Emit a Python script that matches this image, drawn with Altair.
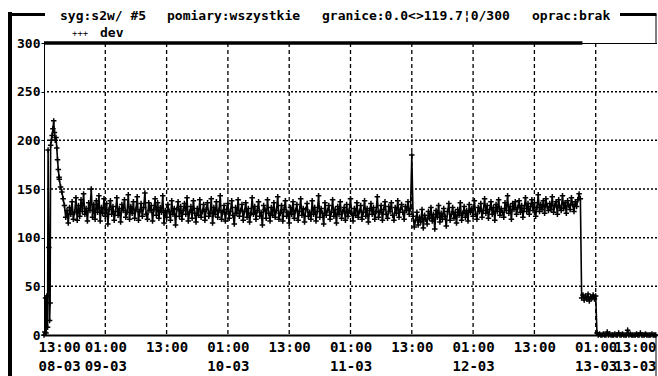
import altair as alt
import pandas as pd

# ---------------- data ----------------
TITLE_PARTS = ["syg:s2w/ #5", "pomiary:wszystkie", "granice:0.0<>119.7¦0/300", "oprac:brak"]
LEGEND_MARK = "+++"
LEGEND_NAME = "dev"

# start of the record (hours after 08-03 13:00)
start_hours = [0.0, 0.15, 0.3, 0.4, 0.55, 0.7, 0.8, 0.95, 1.1, 1.2, 1.3, 1.45,
               1.6, 1.75, 1.9, 2.05, 2.2, 2.35, 2.5, 2.65, 2.8, 2.95]
start_values = [0, 3, 38, 2, 40, 8, 190, 90, 15, 33, 195, 200,
                205, 212, 220, 208, 200, 203, 192, 180, 170, 162]

# main record, every 15 minutes from hour 3.0
band_start = 3.0
band_step = 0.25
band_values = [
    160, 152, 147, 140, 133, 121, 128, 115, 131, 124, 137, 119, 126, 141, 118, 133, 122, 139, 127, 145, 124, 130, 117, 136,
    128, 150, 121, 134, 119, 138, 126, 143, 117, 131, 125, 140, 122, 135, 114, 129, 138, 124, 132, 118, 127, 141, 123, 130,
    116, 134, 128, 139, 121, 126, 144, 119, 132, 125, 137, 120, 129, 142, 118, 127, 135, 122, 131, 146, 124, 119, 136, 128,
    133, 117, 129, 140, 123, 136, 120, 131, 126, 143, 115, 128, 121, 134, 127, 118, 138, 124, 130, 113, 129, 137, 122, 132,
    119, 128, 135, 124, 141, 117, 126, 132, 120, 138, 125, 116, 130, 123, 139, 121, 127, 134, 118, 129, 136, 122, 125, 140,
    115, 131, 124, 137, 121, 128, 143, 119, 126, 133, 117, 129, 135, 120, 127, 138, 123, 114, 131, 125, 139, 122, 128, 134,
    118, 127, 136, 121, 130, 116, 125, 141, 124, 132, 119, 128, 137, 122, 126, 113, 133, 129, 120, 139, 125, 117, 131, 123,
    136, 121, 128, 142, 119, 125, 133, 117, 129, 138, 122, 126, 115, 131, 124, 137, 120, 128, 134, 118, 127, 140, 123, 130,
    116, 129, 135, 122, 126, 119, 138, 124, 131, 117, 127, 143, 121, 130, 125, 114, 136, 123, 128, 133, 119, 126, 139, 122,
    129, 115, 132, 124, 137, 120, 127, 131, 118, 134, 122, 128, 140, 125, 117, 130, 123, 136, 121, 127, 133, 119, 126, 138,
    122, 130, 116, 128, 135, 124, 131, 119, 127, 142, 121, 126, 133, 118, 129, 137, 124, 120, 132, 127, 136, 123, 118, 131,
    125, 138, 121, 129, 134, 126, 119, 132, 128, 137, 124, 130, 185, 122, 111, 118, 126, 113, 121, 116, 129, 110, 123, 119,
    114, 127, 120, 131, 117, 124, 109, 128, 121, 133, 116, 125, 119, 130, 122, 112, 127, 135, 118, 124, 131, 120, 126, 115,
    129, 123, 136, 118, 125, 132, 121, 128, 117, 134, 126, 130, 122, 138, 124, 119, 131, 127, 135, 121, 128, 140, 125, 133,
    120, 129, 137, 124, 131, 118, 134, 127, 139, 123, 130, 126, 121, 136, 128, 143, 125, 132, 119, 135, 129, 137, 124, 131,
    138, 126, 133, 121, 130, 141, 127, 135, 124, 132, 139, 128, 136, 122, 131, 144, 127, 134, 129, 138, 125, 140, 132, 128,
    135, 129, 142, 126, 133, 137, 124, 139, 131, 128, 143, 130, 136, 125, 138, 133, 129, 141, 134, 127, 137, 132, 139, 145,
    140,
]
tail_values = [38, 41, 36, 40, 37, 42, 35, 39, 38, 41, 37, 40,
               2, 0, 1, 0, 0, 1, 0, 0, 3, 0, 1, 0, 0, 0, 1, 0, 0, 2, 0, 0,
               1, 0, 0, 0, 5, 0, 1, 0, 0, 0, 0, 1, 0, 0, 2, 0, 0, 0, 1, 0,
               0, 0, 0, 1, 0, 0, 0]

# presence bar along the top (hours)
bar_from, bar_to = 0.0, 105.4

x_tick_hours = [0, 12, 24, 36, 48, 60, 72, 84, 96, 108, 120]
x_tick_time = ["13:00", "01:00", "13:00", "01:00", "13:00", "01:00",
               "13:00", "01:00", "13:00", "01:00", "13:00"]
x_tick_date = ["08-03", "09-03", "", "10-03", "", "11-03", "", "12-03", "", "13-03", "13-03"]
v_grid_hours = [12, 24, 36, 48, 60, 72, 84, 96, 108]
y_ticks = [0, 50, 100, 150, 200, 250, 300]
h_grid_values = [50, 100, 150, 200, 250]

# ---------------- build ----------------
rest = band_values + tail_values
hours = start_hours + [band_start + i * band_step for i in range(len(rest))]
values = start_values + rest
df = pd.DataFrame({"h": hours, "v": values})

FONT = "DejaVu Sans Mono"
W, H = 613, 292
first_h, last_h = x_tick_hours[0], x_tick_hours[-1]

parts = []
for t, d in zip(x_tick_time, x_tick_date):
    parts.append(f"['{t}','{d}']" if d else f"['{t}']")
label_expr = "[" + ",".join(parts) + "][round(datum.value/12)]"

xscale = alt.Scale(domain=[first_h, last_h], nice=False, zero=False)
yscale = alt.Scale(domain=[0, 300], nice=False)

x_axis = alt.Axis(
    values=x_tick_hours, labelExpr=label_expr, grid=False, ticks=False,
    domainColor="black", domainWidth=2, labelFlush=False, labelOverlap=False,
    labelAlign={"condition": [{"test": f"datum.value <= {first_h}", "value": "left"},
                              {"test": f"datum.value >= {last_h}", "value": "right"}],
                "value": "center"},
    labelOffset={"condition": [{"test": f"datum.value <= {first_h}", "value": -6},
                               {"test": f"datum.value >= {last_h}", "value": -1}],
                 "value": 0},
    labelFont=FONT, labelFontSize=14, labelFontWeight="bold", labelColor="black",
    labelPadding=5, labelLineHeight=19, labelBaseline="top", title=None)
y_axis = alt.Axis(values=y_ticks, grid=False, tickSize=3, tickColor="black",
                  domainColor="black", domainWidth=1, labelFont=FONT, labelFontSize=13,
                  labelColor="black", labelPadding=1, labelFontWeight="bold", title=None)

base = alt.Chart(df)

vgrid = alt.Chart(pd.DataFrame({"h": v_grid_hours})).mark_rule(
    color="black", strokeWidth=1.3, strokeDash=[4, 3]).encode(
    x=alt.X("h:Q", scale=xscale, axis=x_axis))
hgrid = alt.Chart(pd.DataFrame({"v": h_grid_values})).mark_rule(
    color="black", strokeWidth=1.5, strokeDash=[2, 2]).encode(
    y=alt.Y("v:Q", scale=yscale, axis=y_axis))

top_line = alt.Chart(pd.DataFrame({"a": [0]})).mark_rule(color="black", strokeWidth=1).encode(
    x=alt.value(0), x2=alt.value(W), y=alt.value(0.5))
top_bar = alt.Chart(pd.DataFrame({"h0": [bar_from], "h1": [bar_to], "v": [300]})).mark_rule(
    color="black", strokeWidth=3.5).encode(
    x=alt.X("h0:Q", scale=xscale), x2="h1:Q", y=alt.Y("v:Q", scale=yscale))

line = base.mark_line(color="black", strokeWidth=1.6).encode(
    x=alt.X("h:Q", scale=xscale), y=alt.Y("v:Q", scale=yscale))
pts = base.mark_point(shape="M-1,0L1,0M0,-1L0,1", size=30, filled=False,
                      color="black", strokeWidth=1.5, opacity=1).encode(
    x=alt.X("h:Q", scale=xscale), y=alt.Y("v:Q", scale=yscale))

one = pd.DataFrame({"a": [0]})
frame_left = alt.Chart(one).mark_rule(color="black", strokeWidth=4).encode(
    x=alt.value(-34), y=alt.value(-31), y2=alt.value(340))
frame_tl = alt.Chart(one).mark_rule(color="black", strokeWidth=3).encode(
    x=alt.value(-36), x2=alt.value(1), y=alt.value(-28.5))
frame_tr = alt.Chart(one).mark_rule(color="black", strokeWidth=3).encode(
    x=alt.value(576), x2=alt.value(612.5), y=alt.value(-28.5))
frame_r1 = alt.Chart(one).mark_rule(color="black", strokeWidth=1).encode(
    x=alt.value(612), y=alt.value(-28.5), y2=alt.value(0))
frame_r2 = alt.Chart(one).mark_rule(color="black", strokeWidth=1).encode(
    x=alt.value(612), y=alt.value(292), y2=alt.value(335))

title_x = [16, 123, 278, 488]
title_layers = [
    alt.Chart(pd.DataFrame({"t": [txt]})).mark_text(
        font=FONT, fontSize=13, fontWeight="bold", align="left", baseline="alphabetic",
        color="black").encode(x=alt.value(px), y=alt.value(-23), text="t:N")
    for txt, px in zip(TITLE_PARTS, title_x)
]
leg_mark = alt.Chart(pd.DataFrame({"t": [LEGEND_MARK]})).mark_text(
    font=FONT, fontSize=9, align="left", baseline="alphabetic", color="black").encode(
    x=alt.value(28), y=alt.value(-7), text="t:N")
leg_name = alt.Chart(pd.DataFrame({"t": [LEGEND_NAME]})).mark_text(
    font=FONT, fontSize=13, fontWeight="bold", align="left", baseline="alphabetic",
    color="black").encode(x=alt.value(56), y=alt.value(-6), text="t:N")

chart = alt.layer(
    vgrid, hgrid, top_line, top_bar, line, pts,
    frame_left, frame_tl, frame_tr, frame_r1, frame_r2, *title_layers, leg_mark, leg_name
).properties(
    width=W, height=H,
    autosize=alt.AutoSizeParams(type="none"),
    padding={"left": 44, "top": 43, "right": 1, "bottom": 41},
    background="white",
).configure_view(stroke=None)

chart.save("out.html", embed_options={"renderer": "svg", "actions": False})
